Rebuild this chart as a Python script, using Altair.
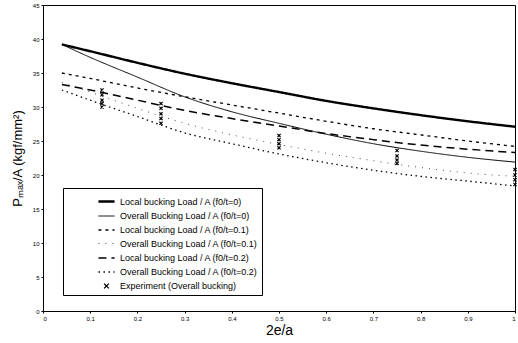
import altair as alt
import pandas as pd

# ---- data ----
x_grid = [0.04, 0.1, 0.2, 0.3, 0.4, 0.5, 0.6, 0.7, 0.8, 0.9, 1.0]
local_0 = [39.2, 38.2, 36.5, 34.9, 33.5, 32.2, 30.9, 29.8, 28.8, 27.9, 27.1]
overall_0 = [39.2, 37.3, 34.4, 31.5, 29.3, 27.6, 26.0, 24.6, 23.5, 22.6, 21.9]
local_01 = [35.0, 34.2, 32.8, 31.5, 30.3, 29.1, 27.9, 26.8, 25.9, 25.0, 24.2]
overall_01 = [33.6, 32.2, 29.8, 27.6, 25.9, 24.5, 23.2, 22.1, 21.1, 20.3, 19.8]
local_02 = [33.3, 32.5, 31.0, 29.5, 28.3, 27.2, 26.1, 25.2, 24.4, 23.8, 23.3]
overall_02 = [32.5, 31.0, 28.6, 26.2, 24.6, 23.1, 21.8, 20.7, 19.8, 19.1, 18.4]

exp_x = [0.125, 0.125, 0.125, 0.125, 0.125,
         0.25, 0.25, 0.25, 0.25, 0.25,
         0.5, 0.5, 0.5, 0.5,
         0.75, 0.75, 0.75, 0.75,
         1.0, 1.0, 1.0, 1.0]
exp_y = [32.5, 31.8, 31.0, 30.5, 30.0,
         30.5, 29.8, 29.0, 28.3, 27.6,
         25.8, 25.2, 24.6, 24.0,
         23.6, 22.8, 22.2, 21.7,
         20.8, 20.0, 19.3, 18.6]

series_names = [
    "Local bucking Load / A (f0/t=0)",
    "Overall Bucking Load / A (f0/t=0)",
    "Local bucking Load / A (f0/t=0.1)",
    "Overall Bucking Load / A (f0/t=0.1)",
    "Local bucking Load / A (f0/t=0.2)",
    "Overall Bucking Load / A (f0/t=0.2)",
    "Experiment (Overall bucking)",
]
line_values = [local_0, overall_0, local_01, overall_01, local_02, overall_02]

rows = []
for name, vals in zip(series_names[:6], line_values):
    for xv, yv in zip(x_grid, vals):
        rows.append({"x": xv, "y": yv, "series": name})
lines_df = pd.DataFrame(rows)
exp_df = pd.DataFrame({"x": exp_x, "y": exp_y, "series": series_names[6]})

dash_range = [[1, 0], [1, 0], [3, 4], [1, 6], [8, 5], [1.5, 3.5], [1, 0]]
width_range = [2.4, 1.0, 1.3, 0.7, 1.5, 1.3, 1.2]
cross = "M-0.3,-0.3L0.3,0.3M-0.3,0.3L0.3,-0.3"
shape_range = ["stroke", "stroke", "stroke", "stroke", "stroke", "stroke", cross]

legend = alt.Legend(
    title=None, orient="none", legendX=20, legendY=183,
    strokeColor="black", padding=4, symbolOffset=30, labelOffset=4,
    labelFontSize=9, labelFont="Liberation Sans", symbolSize=260,
    rowPadding=0, labelLimit=300, symbolStrokeColor="black",
    symbolFillColor="transparent",
)

xenc = alt.X("x:Q", scale=alt.Scale(domain=[0, 1], nice=False),
             axis=alt.Axis(title="2e/a", values=[0, 0.1, 0.2, 0.3, 0.4, 0.5, 0.6, 0.7, 0.8, 0.9, 1.0],
                           format=".1~f", grid=False, labelFontSize=6, titleFontSize=14,
                           titleFontWeight="normal", tickSize=2, titlePadding=2,
                           labelFont="Liberation Sans", titleFont="Liberation Sans"))
yenc = alt.Y("y:Q", scale=alt.Scale(domain=[0, 45], nice=False),
             axis=alt.Axis(title="Pₘₐₓ/A (kgf/mm²)", values=list(range(0, 46, 5)),
                           grid=False, labelFontSize=6, titleFontSize=13,
                           titleFontWeight="normal", tickSize=2, titlePadding=8,
                           labelFont="Liberation Sans", titleFont="Liberation Sans"))

dash = alt.StrokeDash("series:N", scale=alt.Scale(domain=series_names, range=dash_range), legend=legend)
swidth = alt.StrokeWidth("series:N", scale=alt.Scale(type="ordinal", domain=series_names, range=width_range), legend=legend)
shape = alt.Shape("series:N", scale=alt.Scale(domain=series_names, range=shape_range), legend=legend)

lines = alt.Chart(lines_df).mark_line(color="black", interpolate="monotone").encode(
    x=xenc, y=yenc, strokeDash=dash, strokeWidth=swidth
)
points = alt.Chart(exp_df).mark_point(color="black", filled=False, size=110, opacity=1).encode(
    x=xenc, y=yenc, shape=shape, strokeWidth=swidth
)

chart = alt.layer(lines, points).properties(
    width=472, height=306,
    padding={"left": 43, "top": 5, "right": 3, "bottom": 32},
    autosize="none", background="white",
).configure_view(stroke="black", strokeWidth=1).configure_axis(
    domainColor="black", tickColor="black", labelColor="black", titleColor="black"
)

chart.save("out.html", embed_options={"renderer": "svg", "actions": False})
